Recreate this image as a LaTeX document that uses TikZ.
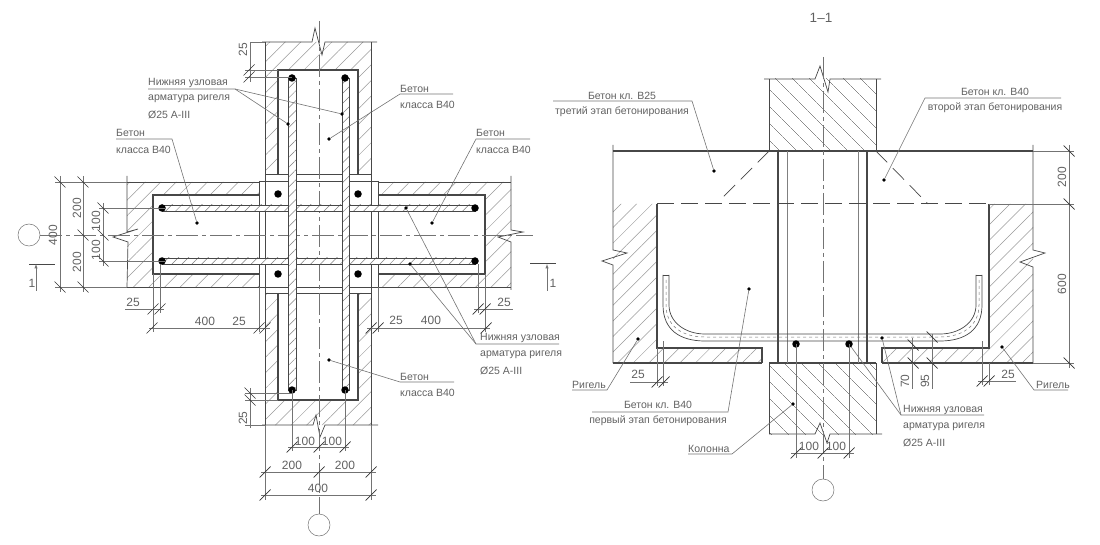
\documentclass[tikz,border=0pt]{standalone}
\usepackage{fontspec}
\setmainfont{Liberation Sans}
\usetikzlibrary{patterns.meta}

\colorlet{linec}{black!72}
\colorlet{dimc}{black!55}
\colorlet{textc}{black!62}

\tikzset{
  hatchb/.style = {pattern = {Lines[angle=45, distance=11pt, line width=.5pt]}, pattern color = black!40},
  hatchc/.style = {pattern = {Lines[angle=-45, distance=13pt, line width=.6pt]}, pattern color = black!45},
  rebar/.style = {draw = linec, line width = .6pt, preaction = {fill = white},
    pattern = {Lines[angle=45, distance=7pt, line width=.5pt]}, pattern color = black!50},
  outl/.style = {draw = linec, line width = .7pt},
  inl/.style = {draw = linec, line width = 1.1pt},
  dimln/.style = {draw = dimc, line width = .5pt},
  axisln/.style = {draw = dimc, line width = .5pt, dash pattern = on 22pt off 4pt on 4pt off 4pt},
  leader/.style = {draw = dimc, line width = .6pt},
  tickln/.style = {draw = black!80, line width = .7pt},
  leaddot/.style = {circle, fill = black, minimum size = 3.6pt},
  bigdot/.style = {circle, fill = black, minimum size = 7.5pt},
  axisc/.style = {circle, draw = dimc, line width = .5pt, minimum size = 22pt},
  lbl/.style = {anchor = west, font = \fontsize{10.5}{12}\selectfont, text = textc},
  lblc/.style = {font = \fontsize{10.5}{12}\selectfont, text = textc},
  dimt/.style = {font = \fontsize{12}{12}\selectfont, text = textc},
  dimr/.style = {dimt, rotate = 90}
}
% slanted ticks of the dimension lines
\newcommand{\tkb}[2]{\draw[tickln] (#1,#2) +(-5.5,-5.5) -- +(5.5,5.5);}
\newcommand{\tkf}[2]{\draw[tickln] (#1,#2) +(-5.5,5.5) -- +(5.5,-5.5);}

\begin{document}
\begin{tikzpicture}[
      x = 1pt, y = -1pt,
      every node/.style = {inner sep = 0pt}
      ]
    \useasboundingbox (0,0) rectangle (1100,545);

    % plan: hatched frames
    \path[hatchb] (265,42)--(371,42)--(371,174)--(358,174)--(358,70)--(278,70)--(278,174)--(265,174)--cycle; % top
    \path[hatchb] (265,425)--(371,425)--(371,293)--(358,293)--(358,400)--(278,400)--(278,293)--(265,293)--cycle; % bottom
    \path[hatchb] (127,182)--(259,182)--(259,195)--(153,195)--(153,274)--(259,274)--(259,287)--(127,287)--cycle; % left
    \path[hatchb] (511,182)--(378,182)--(378,195)--(485,195)--(485,274)--(378,274)--(378,287)--(511,287)--cycle; % right

    % plan: outlines
    \draw[outl] (262,42)--(312,42)--(315,28)--(322,55)--(325,42)--(377,42);
    \draw[outl] (265,42)--(265,293);
    \draw[outl] (371,42)--(371,293);
    \draw[outl] (265,174)--(371,174);
    \draw[outl] (259,181)--(378,181);
    \draw[outl] (259,287)--(378,287);
    \draw[outl] (265,293)--(371,293);
    \draw[outl] (259,181)--(259,287);
    \draw[outl] (378,181)--(378,287);
    \draw[outl] (265,293)--(265,425);
    \draw[outl] (371,293)--(371,425);
    \draw[outl] (262,425)--(313,425)--(316,415)--(320,437)--(325,425)--(378,425);
    \draw[outl] (127,176)--(127,232)--(138,229)--(113,237)--(128,242)--(127,287);
    \draw[outl] (127,182)--(259,182);
    \draw[outl] (127,287)--(259,287);
    \draw[outl] (511,176)--(511,230)--(523,232)--(498,237)--(511,242)--(511,290);
    \draw[outl] (378,182)--(511,182);
    \draw[outl] (378,287)--(511,287);
    \draw[inl] (278,174)--(278,70)--(358,70)--(358,174);
    \draw[inl] (278,293)--(278,400)--(358,400)--(358,293);
    \draw[inl] (259,195)--(153,195)--(153,274)--(259,274);
    \draw[inl] (378,195)--(485,195)--(485,274)--(378,274);

    % plan: axes
    \node[axisc] (axl) at (29,235) {};
    \node[axisc] (axb) at (319,525) {};
    \coordinate (axr) at (533,235);
    \coordinate (axt) at (319,21);
    \draw[axisln] (axl)--(axr);
    \draw[axisln] (axt)--(axb);

    % plan: bars
    \draw[rebar] (162,205) rectangle (475,211);
    \draw[rebar] (162,258) rectangle (475,264);
    \draw[rebar] (288,78) rectangle (296,390);
    \draw[rebar] (342,78) rectangle (349,390);
    \node[bigdot] (pa) at (278,194) {};
    \node[bigdot] (pb) at (358,194) {};
    \node[bigdot] (pc) at (278,274) {};
    \node[bigdot] (pd) at (358,274) {};
    \node[bigdot] (pe) at (162,208) {};
    \node[bigdot] (pf) at (162,261) {};
    \node[bigdot] (pg) at (475,208) {};
    \node[bigdot] (ph) at (475,261) {};
    \node[bigdot] (pi) at (292,78) {};
    \node[bigdot] (pj) at (345,78) {};
    \node[bigdot] (pk) at (292,390) {};
    \node[bigdot] (pl) at (345,390) {};

    % plan: dimensions on the left
    \draw[dimln] (60,176)--(60,292);
    \draw[dimln] (83,176)--(83,292);
    \draw[dimln] (103,203)--(103,266);
    \draw[dimln] (55,182)--(127,182);
    \draw[dimln] (55,287)--(127,287);
    \draw[dimln] (99,208)--(165,208);
    \draw[dimln] (99,261)--(165,261);
    \tkb{60}{182} \tkb{60}{287}
    \tkb{83}{182} \tkb{83}{235} \tkb{83}{287}
    \tkb{103}{208} \tkb{103}{235} \tkb{103}{261}
    \node[dimr] (d400l) at (53,235) {400};
    \node[dimr] (d200a) at (77,208) {200};
    \node[dimr] (d200b) at (77,262) {200};
    \node[dimr] (d100a) at (96,221) {100};
    \node[dimr] (d100b) at (96,250) {100};

    % plan: dimensions under the beams
    \draw[dimln] (153,274)--(153,332);
    \draw[dimln] (160,264)--(160,313);
    \draw[dimln] (259,287)--(259,332);
    \draw[dimln] (125,309)--(164,309);
    \draw[dimln] (149,328)--(270,328);
    \tkf{153}{309} \tkf{160}{309}
    \tkf{152}{328} \tkf{259}{328} \tkf{265}{328}
    \node[dimt] (d25a) at (133,302) {25};
    \node[dimt] (d400a) at (205,321) {400};
    \node[dimt] (d25b) at (239,321) {25};
    \draw[dimln] (485,274)--(485,332);
    \draw[dimln] (478,264)--(478,313);
    \draw[dimln] (378,287)--(378,332);
    \draw[dimln] (474,309)--(513,309);
    \draw[dimln] (367,328)--(490,328);
    \tkf{478}{309} \tkf{485}{309}
    \tkf{371}{328} \tkf{378}{328} \tkf{486}{328}
    \node[dimt] (d25c) at (504,302) {25};
    \node[dimt] (d25d) at (396,320) {25};
    \node[dimt] (d400b) at (431,320) {400};

    % plan: dimensions of the column
    \draw[dimln] (250,42)--(250,82);
    \draw[dimln] (250,42)--(265,42);
    \draw[dimln] (245,70)--(278,70);
    \draw[dimln] (245,77)--(292,77);
    \tkf{249}{70} \tkf{249}{77}
    \node[dimr] (d25e) at (243,50) {25};
    \draw[dimln] (250,388)--(250,428);
    \draw[dimln] (245,393)--(292,393);
    \draw[dimln] (245,400)--(278,400);
    \draw[dimln] (245,425)--(265,425);
    \tkb{250}{393} \tkb{250}{400}
    \node[dimr] (d25f) at (243,418) {25};
    \draw[dimln] (265,425)--(265,500);
    \draw[dimln] (371,425)--(371,500);
    \draw[dimln] (292,390)--(292,451);
    \draw[dimln] (345,390)--(345,451);
    \draw[dimln] (288,447)--(349,447);
    \draw[dimln] (261,472)--(376,472);
    \draw[dimln] (261,495)--(376,495);
    \tkf{292}{447} \tkf{319}{447} \tkf{345}{447}
    \tkf{265}{472} \tkf{319}{472} \tkf{371}{472}
    \tkf{265}{495} \tkf{371}{495}
    \node[dimt] (d100c) at (305,441) {100};
    \node[dimt] (d100d) at (332,441) {100};
    \node[dimt] (d200c) at (292,465) {200};
    \node[dimt] (d200d) at (345,465) {200};
    \node[dimt] (d400c) at (318,488) {400};

    % plan: section marks
    \draw[outl] (29,264)--(55,264);
    \draw[outl] (530,263)--(556,263);
    \coordinate (sla) at (36,291);
    \coordinate (slb) at (36,264);
    \coordinate (sra) at (547,291);
    \coordinate (srb) at (547,264);
    \draw[dimln,-latex] (sla)--(slb);
    \draw[dimln,-latex] (sra)--(srb);
    \node[dimt] (sl) at (32,283) {1};
    \node[dimt] (sr) at (553,283) {1};

    % plan: labels
    \node[lbl] (ta) at (148,83) {Нижняя узловая};
    \node[lbl] (tb) at (148,99) {арматура ригеля};
    \node[lbl] (tc) at (148,115) {Ø25 А-III};
    \coordinate (ua) at (148,89);
    \coordinate (ub) at (235,89);
    \node[leaddot] (da) at (288,124) {};
    \node[leaddot] (db) at (342,114) {};
    \draw[leader] (ua)--(ub)--(da);
    \draw[leader] (ub)--(db);

    \node[lbl] (te) at (116,133) {Бетон};
    \node[lbl] (tf) at (116,150) {класса В40};
    \coordinate (uc) at (116,139);
    \coordinate (ud) at (172,139);
    \node[leaddot] (dc) at (197,223) {};
    \draw[leader] (uc)--(ud)--(dc);

    \node[lbl] (tg) at (400,89) {Бетон};
    \node[lbl] (th) at (400,105) {класса В40};
    \coordinate (ue) at (453,94);
    \coordinate (uf) at (400,94);
    \node[leaddot] (dd) at (329,139) {};
    \draw[leader] (ue)--(uf)--(dd);

    \node[lbl] (ti) at (476,133) {Бетон};
    \node[lbl] (tj) at (476,150) {класса В40};
    \coordinate (ug) at (530,139);
    \coordinate (uh) at (476,139);
    \node[leaddot] (de) at (432,223) {};
    \draw[leader] (ug)--(uh)--(de);

    \node[lbl] (tk) at (480,338) {Нижняя узловая};
    \node[lbl] (tl) at (480,355) {арматура ригеля};
    \node[lbl] (tm) at (480,371) {Ø25 А-III};
    \coordinate (ui) at (559,344);
    \coordinate (uj) at (476,344);
    \node[leaddot] (df) at (406,208) {};
    \node[leaddot] (dg) at (410,264) {};
    \draw[leader] (ui)--(uj)--(df);
    \draw[leader] (uj)--(dg);

    \node[lbl] (tn) at (400,377) {Бетон};
    \node[lbl] (to) at (400,393) {класса В40};
    \coordinate (uk) at (454,382);
    \coordinate (ul) at (400,382);
    \node[leaddot] (dh) at (329,360) {};
    \draw[leader] (uk)--(ul)--(dh);

    % section
    \node[font = \fontsize{13.5}{14}\selectfont, text = textc] (title) at (821,18) {1--1};
    \path[hatchc] (769,79) rectangle (876,151);
    \path[hatchc] (769,363) rectangle (876,434);
    \path[hatchb] (613,204)--(657,204)--(657,348)--(762,348)--(762,363)--(613,363)--cycle;
    \path[hatchb] (1033,204)--(989,204)--(989,348)--(882,348)--(882,363)--(1033,363)--cycle;

    \draw[outl] (764,79)--(815,79)--(820,66)--(828,92)--(830,79)--(881,79);
    \draw[outl] (769,79)--(769,151);
    \draw[outl] (876,79)--(876,151);
    \draw[inl] (613,151)--(1033,151);
    \draw[outl] (613,145)--(613,250)--(627,253)--(602,261)--(613,265)--(613,363);
    \draw[outl] (1033,145)--(1033,250)--(1045,253)--(1020,262)--(1033,267)--(1033,363);
    \draw[inl] (657,204)--(657,348)--(762,348)--(762,363);
    \draw[inl] (989,204)--(989,348)--(882,348)--(882,363);
    \draw[inl] (613,363)--(762,363);
    \draw[inl] (769,363)--(876,363);
    \draw[inl] (882,363)--(1033,363);
    \draw[outl] (769,363)--(769,434);
    \draw[outl] (876,363)--(876,434);
    \draw[outl] (769,434)--(815,434)--(820,423)--(827,443)--(830,434)--(882,434);
    \draw[inl] (778,151)--(778,363);
    \draw[outl,black!50] (787,151)--(787,363);
    \draw[outl,black!50] (858,151)--(858,363);
    \draw[inl] (867,151)--(867,363);
    \draw[outl,line width = 1pt,dash pattern = on 17pt off 7pt] (657,204)--(989,204);
    \draw[outl,dash pattern = on 16pt off 8pt] (769,151)--(723,197);
    \draw[outl,dash pattern = on 16pt off 8pt] (876,151)--(928,204);

    % section: bar in the beam
    \draw[outl] (663,275)--(669,275);
    \draw[outl] (663,275)--(663,305) .. controls (663,330) and (680,341) .. (705,341)--(940,341) .. controls (965,341) and (982,330) .. (982,305)--(982,275);
    \draw[outl] (669,275)--(669,305) .. controls (669,322) and (685,334) .. (705,334)--(940,334) .. controls (960,334) and (976,322) .. (976,305)--(976,275);
    \draw[outl] (976,275)--(982,275);
    \draw[dimln,dashed] (666,280)--(666,305) .. controls (666,326) and (682,337) .. (705,337)--(940,337) .. controls (962,337) and (979,326) .. (979,305)--(979,280);

    % section: axis and dots
    \node[axisc] (axs) at (823,490) {};
    \coordinate (axst) at (823,57);
    \draw[axisln] (axst)--(axs);
    \node[bigdot] (sa) at (796,344) {};
    \node[bigdot] (sb) at (849,344) {};
    \node[leaddot] (sc) at (882,338) {};

    % section: dimensions
    \draw[dimln] (1033,151)--(1074,151);
    \draw[dimln] (989,204)--(1074,204);
    \draw[dimln] (1033,363)--(1074,363);
    \draw[dimln] (1069,145)--(1069,368);
    \tkb{1069}{151} \tkb{1069}{204} \tkb{1069}{363}
    \node[dimr] (s200) at (1062,177) {200};
    \node[dimr] (s600) at (1062,284) {600};
    \draw[dimln] (912,338)--(912,389);
    \draw[dimln] (932,334)--(932,389);
    \tkb{913}{345} \tkb{913}{363} \tkb{932}{337} \tkb{932}{363}
    \node[dimr] (s70) at (905,381) {70};
    \node[dimr] (s95) at (925,381) {95};
    \draw[dimln] (982,341)--(982,385);
    \draw[dimln] (989,363)--(989,385);
    \draw[dimln] (978,381)--(1016,381);
    \tkf{982}{381} \tkf{989}{381}
    \node[dimt] (s25a) at (1008,374) {25};
    \draw[dimln] (657,348)--(657,386);
    \draw[dimln] (663,341)--(663,386);
    \draw[dimln] (630,382)--(668,382);
    \tkf{657}{382} \tkf{664}{382}
    \node[dimt] (s25b) at (638,374) {25};
    \draw[dimln] (796,344)--(796,458);
    \draw[dimln] (849,344)--(849,458);
    \draw[dimln] (791,453)--(854,453);
    \tkf{796}{453} \tkf{823}{453} \tkf{849}{453}
    \node[dimt] (s100a) at (809,446) {100};
    \node[dimt] (s100b) at (836,446) {100};

    % section: labels
    \node[lblc] (ra) at (622,96) {Бетон кл. В25};
    \node[lblc] (rb) at (622,112) {третий этап бетонирования};
    \coordinate (va) at (553,101);
    \coordinate (vb) at (692,101);
    \node[leaddot] (ea) at (714,171) {};
    \draw[leader] (va)--(vb)--(ea);

    \node[lblc] (rc) at (995,92) {Бетон кл. В40};
    \node[lblc] (rd) at (995,108) {второй этап бетонирования};
    \coordinate (vc) at (1061,98);
    \coordinate (vd) at (925,98);
    \node[leaddot] (eb) at (884,180) {};
    \draw[leader] (vc)--(vd)--(eb);

    \node[lblc] (re) at (658,405) {Бетон кл. В40};
    \node[lblc] (rf) at (658,421) {первый этап бетонирования};
    \coordinate (ve) at (592,412);
    \coordinate (vf) at (728,412);
    \node[leaddot] (ec) at (749,289) {};
    \draw[leader] (ve)--(vf)--(ec);

    \node[lbl] (rg) at (572,385) {Ригель};
    \coordinate (vg) at (572,390);
    \coordinate (vh) at (607,390);
    \node[leaddot] (ed) at (638,339) {};
    \draw[leader] (vg)--(vh)--(ed);

    \node[lbl] (rh) at (1036,385) {Ригель};
    \coordinate (vi) at (1068,390);
    \coordinate (vj) at (1034,390);
    \node[leaddot] (ee) at (1002,347) {};
    \draw[leader] (vi)--(vj)--(ee);

    \node[lbl] (ri) at (688,449) {Колонна};
    \coordinate (vk) at (688,454);
    \coordinate (vl) at (732,454);
    \node[leaddot] (ef) at (793,404) {};
    \draw[leader] (vk)--(vl)--(ef);

    \node[lbl] (rj) at (903,410) {Нижняя узловая};
    \node[lbl] (rk) at (903,427) {арматура ригеля};
    \node[lbl] (rl) at (903,443) {Ø25 А-III};
    \coordinate (vm) at (984,415);
    \coordinate (vn) at (901,415);
    \draw[leader] (vm)--(vn)--(sb);
    \draw[leader] (vn)--(sc);
  \end{tikzpicture}
\end{document}
